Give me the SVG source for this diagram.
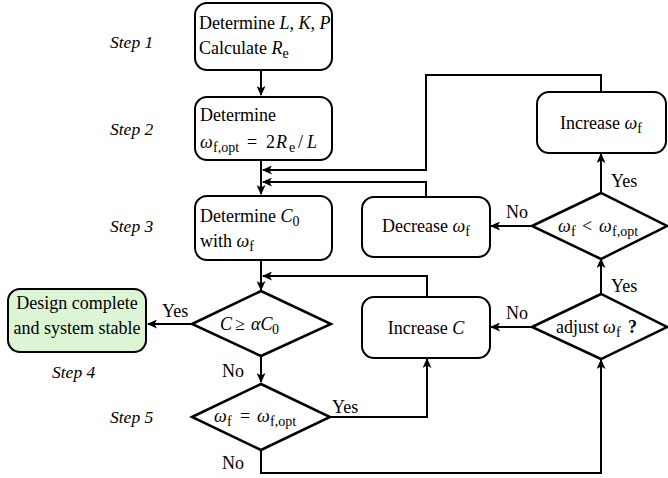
<svg xmlns="http://www.w3.org/2000/svg" width="668" height="478" viewBox="0 0 668 478">
<style>
text{font-family:'Liberation Serif','Times New Roman',serif;font-size:18px;fill:#000}
.step{font-style:italic;font-size:17.5px}
.i{font-style:italic}
.s{font-size:14px}
.box{fill:#fff;stroke:#000;stroke-width:2}
.green{fill:#dcf5d4}
.dia{fill:#fff;stroke:#000;stroke-width:2.5;stroke-linejoin:miter}
.c{fill:none;stroke:#000;stroke-width:2}
.m{text-anchor:middle}
</style>
<defs>
<marker id="ah" markerUnits="userSpaceOnUse" markerWidth="10" markerHeight="9" refX="9" refY="4.5" orient="auto">
<path d="M0,0 L10,4.5 L0,9 L2.5,4.5 z" fill="#000"/>
</marker>
</defs>

<g id="steps">
<text class="step" x="110" y="48">Step 1</text>
<text class="step" x="110" y="135">Step 2</text>
<text class="step" x="110" y="232">Step 3</text>
<text class="step" x="52" y="378">Step 4</text>
<text class="step" x="110" y="423">Step 5</text>
</g>

<g id="connectors">
<path class="c" d="M261,70 V95" marker-end="url(#ah)"/>
<path class="c" d="M261,160 V194" marker-end="url(#ah)"/>
<path class="c" d="M601,92 V75 H426 V170 H263" marker-end="url(#ah)"/>
<path class="c" d="M426,197 V182 H263" marker-end="url(#ah)"/>
<path class="c" d="M261,261 V290" marker-end="url(#ah)"/>
<path class="c" d="M427,297 V276 H263" marker-end="url(#ah)"/>
<path class="c" d="M192,324 H148" marker-end="url(#ah)"/>
<path class="c" d="M261,356 V382" marker-end="url(#ah)"/>
<path class="c" d="M330,417 H427 V359" marker-end="url(#ah)"/>
<path class="c" d="M261,450 V473 H601 V360" marker-end="url(#ah)"/>
<path class="c" d="M532,327 H491" marker-end="url(#ah)"/>
<path class="c" d="M601,294 V259" marker-end="url(#ah)"/>
<path class="c" d="M532,226 H491" marker-end="url(#ah)"/>
<path class="c" d="M601,193 V154" marker-end="url(#ah)"/>
<text x="162" y="317">Yes</text>
<text x="222" y="377">No</text>
<text x="332" y="413">Yes</text>
<text x="222" y="469">No</text>
<text x="506" y="319">No</text>
<text x="611" y="292">Yes</text>
<text x="506" y="218">No</text>
<text x="611" y="187">Yes</text>
</g>

<g id="n1">
<rect class="box" x="195" y="3" width="137" height="67" rx="12"/>
<text x="199" y="29">Determine <tspan class="i">L</tspan>, <tspan class="i">K</tspan>, <tspan class="i">P</tspan></text>
<text x="199" y="54">Calculate <tspan class="i">R</tspan><tspan class="s" dy="4">e</tspan></text>
</g>

<g id="n2">
<rect class="box" x="195" y="97" width="137" height="63" rx="12"/>
<text x="200" y="121">Determine</text>
<text y="148"><tspan class="i" x="200">ω</tspan><tspan class="s" x="213" dy="4">f,opt</tspan><tspan x="247" dy="-4">=</tspan><tspan x="266">2</tspan><tspan class="i" x="276">R</tspan><tspan class="s" x="289" dy="4">e</tspan><tspan x="298" dy="-4">/</tspan><tspan class="i" x="307">L</tspan></text>
</g>

<g id="n3">
<rect class="box" x="195" y="196" width="137" height="64" rx="12"/>
<text x="200" y="222">Determine <tspan class="i">C</tspan><tspan class="s" dy="4">0</tspan></text>
<text x="200" y="247">with <tspan class="i">ω</tspan><tspan class="s" dy="4">f</tspan></text>
</g>

<g id="d1">
<polygon class="dia" points="192,324 261,291 331,324 261,356"/>
<text y="330"><tspan class="i" x="220">C</tspan><tspan x="235">≥</tspan><tspan class="i" x="251">αC</tspan><tspan class="s" x="272" dy="4">0</tspan></text>
</g>

<g id="done">
<rect class="box green" x="8" y="289" width="138" height="63" rx="12"/>
<text class="m" x="77" y="309">Design complete</text>
<text class="m" x="77" y="334">and system stable</text>
</g>

<g id="d2">
<polygon class="dia" points="192,417 261,384 330,417 261,450"/>
<text y="422"><tspan class="i" x="214">ω</tspan><tspan class="s" x="227" dy="4">f</tspan><tspan x="240" dy="-4">=</tspan><tspan class="i" x="257">ω</tspan><tspan class="s" x="270" dy="4">f,opt</tspan></text>
</g>

<g id="incC">
<rect class="box" x="362" y="297" width="128" height="61" rx="12"/>
<text class="m" x="426" y="334">Increase <tspan class="i">C</tspan></text>
</g>

<g id="decW">
<rect class="box" x="362" y="197" width="128" height="60" rx="12"/>
<text class="m" x="426" y="232">Decrease <tspan class="i">ω</tspan><tspan class="s" dy="4">f</tspan></text>
</g>

<g id="incW">
<rect class="box" x="537" y="92" width="129" height="61" rx="12"/>
<text class="m" x="601" y="129">Increase <tspan class="i">ω</tspan><tspan class="s" dy="4">f</tspan></text>
</g>

<g id="d3">
<polygon class="dia" points="532,226 601,193 667,226 601,259"/>
<text y="232"><tspan class="i" x="558">ω</tspan><tspan class="s" x="571" dy="4">f</tspan><tspan x="582" dy="-4">&lt;</tspan><tspan class="i" x="599">ω</tspan><tspan class="s" x="612" dy="4">f,opt</tspan></text>
</g>

<g id="d4">
<polygon class="dia" points="532,327 601,294 667,327 601,359"/>
<text y="333"><tspan x="556">adjust</tspan><tspan class="i" x="603">ω</tspan><tspan class="s" x="616" dy="4">f</tspan><tspan x="628" dy="-4" font-weight="bold">?</tspan></text>
</g>
</svg>
